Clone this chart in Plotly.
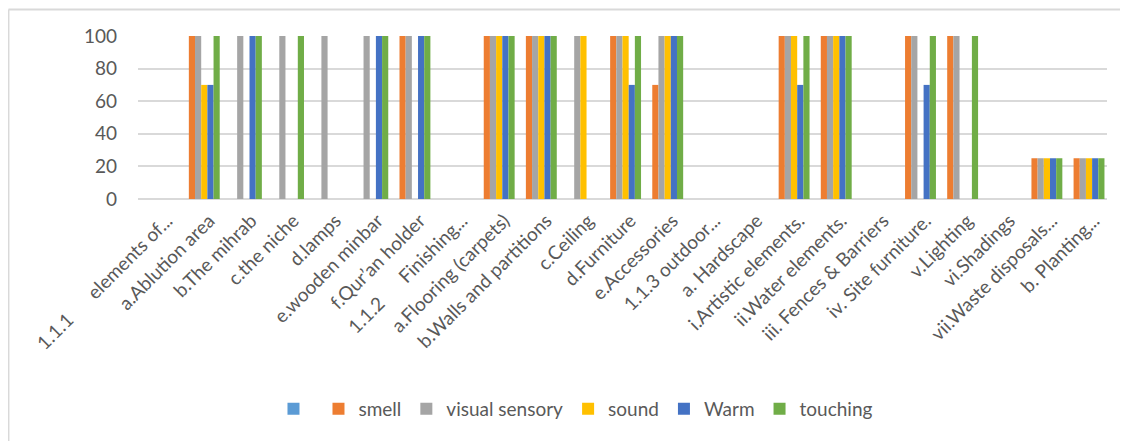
import plotly.graph_objects as go

categories = [
    "1.1.1\u00a0\u00a0\u00a0\u00a0\u00a0\u00a0elements of...",
    "a.Ablution area",
    "b.The mihrab",
    "c.the niche",
    "d.lamps",
    "e.wooden minbar",
    "f.Qur\u2019an holder",
    "1.1.2\u00a0\u00a0\u00a0\u00a0\u00a0\u00a0Finishing...",
    "a.Flooring (carpets)",
    "b.Walls and partitions",
    "c.Ceiling",
    "d.Furniture",
    "e.Accessories",
    "1.1.3 outdoor...",
    "a. Hardscape",
    "i.Artistic elements.",
    "ii.Water elements.",
    "iii. Fences & Barriers",
    "iv. Site furniture.",
    "v.Lighting",
    "vi.Shadings",
    "vii.Waste disposals...",
    "b. Planting...",
]

blank = [None] * len(categories)
smell = [0, 100, 0, 0, 0, 0, 100, 0, 100, 100, 0, 100, 70, 0, 0, 100, 100, 0, 100, 100, 0, 25, 25]
visual = [0, 100, 100, 100, 100, 100, 100, 0, 100, 100, 100, 100, 100, 0, 0, 100, 100, 0, 100, 100, 0, 25, 25]
sound = [0, 70, 0, 0, 0, 0, 0, 0, 100, 100, 100, 100, 100, 0, 0, 100, 100, 0, 0, 0, 0, 25, 25]
warm = [0, 70, 100, 0, 0, 100, 100, 0, 100, 100, 0, 70, 100, 0, 0, 70, 100, 0, 70, 0, 0, 25, 25]
touching = [0, 100, 100, 100, 0, 100, 100, 0, 100, 100, 0, 100, 100, 0, 0, 100, 100, 0, 100, 100, 0, 25, 25]

series = [
    ("", blank, "#5B9BD5"),
    ("smell", smell, "#ED7D31"),
    ("visual sensory", visual, "#A5A5A5"),
    ("sound", sound, "#FFC000"),
    ("Warm", warm, "#4472C4"),
    ("touching", touching, "#70AD47"),
]

fig = go.Figure()
for name, vals, color in series:
    fig.add_trace(go.Bar(
        x=categories, y=vals, name=name,
        marker=dict(color=color, line=dict(width=0)),
        showlegend=True,
    ))

font_family = "Lato, 'Open Sans', sans-serif"
text_color = "#595959"

fig.update_layout(
    width=1128, height=441,
    barmode="group", bargap=0.12, bargroupgap=0,
    paper_bgcolor="white", plot_bgcolor="white",
    margin=dict(l=130, r=29, t=28, b=250, autoexpand=False),
    font=dict(family=font_family, color=text_color),
    xaxis=dict(
        type="category", tickangle=-45, automargin=False,
        tickfont=dict(size=19, color=text_color, family=font_family),
        showgrid=False, showline=False, ticks="",
        ticklabelshift=8, ticklabelstandoff=6,
    ),
    yaxis=dict(
        range=[0, 100], tickvals=[0, 20, 40, 60, 80, 100],
        showgrid=True, gridcolor="#D9D9D9", gridwidth=1.5,
        zeroline=True, zerolinecolor="#D9D9D9", zerolinewidth=1.5,
        showline=False, ticks="", ticklabelstandoff=20,
        tickfont=dict(size=19, color=text_color, family=font_family),
        automargin=False,
    ),
    legend=dict(
        orientation="h", x=0.452, xanchor="center", y=-1.288, yanchor="middle",
        font=dict(size=19, color=text_color, family=font_family),
        itemwidth=30, traceorder="normal",
        bgcolor="rgba(0,0,0,0)",
    ),
    shapes=[
        dict(type="line", xref="paper", yref="paper", x0=-0.1337, x1=1.05, y0=1.163, y1=1.163,
             line=dict(color="#D9D9D9", width=2)),
        dict(type="line", xref="paper", yref="paper", x0=-0.1337, x1=-0.1337, y0=1.163, y1=-1.7,
             line=dict(color="#D9D9D9", width=2)),
    ],
)

fig.write_html("out.html")
